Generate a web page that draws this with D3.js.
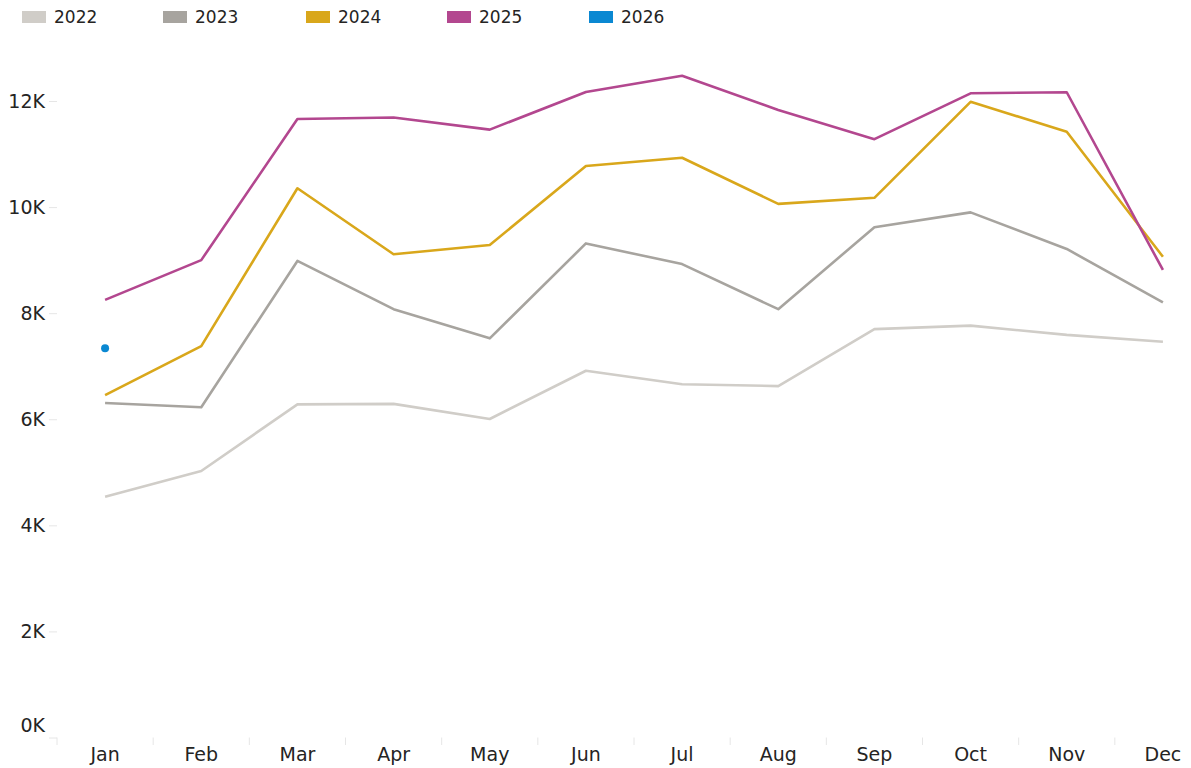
<!doctype html>
<html>
  <head>
    <meta charset="utf-8">
    <script src="https://cdn.jsdelivr.net/npm/d3@7"></script>
    <style>
      body { margin: 0; background: #ffffff; }
      svg { display: block; font-family: "DejaVu Sans", sans-serif; }
    </style>
  </head>
  <body>
    <svg></svg>
    <script>
      // data
      var months = ["Jan", "Feb", "Mar", "Apr", "May", "Jun", "Jul", "Aug", "Sep", "Oct", "Nov", "Dec"];
      var years = ["2022", "2023", "2024", "2025", "2026"];
      var yTicks = [0, 2000, 4000, 6000, 8000, 10000, 12000];

      var v2022 = [4540, 5025, 6280, 6290, 6005, 6915, 6660, 6625, 7700, 7765, 7590, 7460];
      var v2023 = [6305, 6225, 8985, 8075, 7525, 9315, 8925, 8075, 9620, 9900, 9210, 8205];
      var v2024 = [6455, 7380, 10355, 9110, 9285, 10775, 10930, 10060, 10175, 11985, 11420, 9065];
      var v2025 = [8250, 9000, 11660, 11690, 11460, 12170, 12475, 11830, 11280, 12145, 12165, 8815];
      var v2026 = [7340, null, null, null, null, null, null, null, null, null, null, null];

      var seriesValues = [v2022, v2023, v2024, v2025, v2026];
      var colors = ["#d0cdc8", "#a7a49f", "#d9a71b", "#b3478f", "#0a88d2"];

      var width = 1191, height = 768;
      var svg = d3.select("svg").attr("width", width).attr("height", height);

      // scales
      var x = d3.scaleBand().domain(months).range([57, 1211]).padding(0);
      var y = d3.scaleLinear().domain([0, 12000]).range([737.5, 101]);
      var cx = function(m) { return x(m) + x.bandwidth() / 2; };

      // legend
      var legendX = [22, 163, 306, 447, 589];
      var legend = svg.append("g").selectAll("g").data(years).enter().append("g")
        .attr("transform", function(d, i) { return "translate(" + legendX[i] + ",0)"; });
      legend.append("rect")
        .attr("x", 0).attr("y", 11).attr("width", 24).attr("height", 12)
        .attr("fill", function(d, i) { return colors[i]; });
      legend.append("text")
        .attr("x", 32).attr("y", 17).attr("dy", "0.35em")
        .attr("font-size", "17px").attr("fill", "#252423")
        .text(function(d) { return d; });

      // y axis
      var yAxis = d3.axisLeft(y).tickValues(yTicks).tickSize(8).tickPadding(4)
        .tickFormat(function(d) { return (d / 1000) + "K"; });
      var gy = svg.append("g").attr("transform", "translate(57,0)").call(yAxis);
      gy.select(".domain").remove();
      gy.selectAll(".tick line").attr("stroke", "#e6e6e6");
      gy.selectAll(".tick text").attr("font-size", "19px").attr("fill", "#252423")
        .attr("font-family", "DejaVu Sans, sans-serif");
      // the 0K label sits a bit higher than its tick
      gy.selectAll(".tick text").filter(function(d) { return d === 0; }).attr("dy", "-0.3em");

      // x axis: small ticks on the band edges
      var edges = months.map(function(m) { return x(m); });
      svg.append("g").selectAll("line").data(edges).enter().append("line")
        .attr("x1", function(d) { return d; }).attr("x2", function(d) { return d; })
        .attr("y1", 737.5).attr("y2", 745)
        .attr("stroke", "#e6e6e6");
      svg.append("g").selectAll("text").data(months).enter().append("text")
        .attr("x", function(d) { return cx(d); }).attr("y", 754).attr("dy", "0.35em")
        .attr("text-anchor", "middle").attr("font-size", "19px").attr("fill", "#252423")
        .text(function(d) { return d; });

      // lines
      var line = d3.line()
        .defined(function(d) { return d !== null; })
        .x(function(d, i) { return cx(months[i]); })
        .y(function(d) { return y(d); });

      seriesValues.forEach(function(vals, s) {
        svg.append("path")
          .datum(vals)
          .attr("d", line)
          .attr("fill", "none")
          .attr("stroke", colors[s])
          .attr("stroke-width", 2.6)
          .attr("stroke-linejoin", "round");
        // single points with no neighbours get a dot
        vals.forEach(function(v, i) {
          if (v === null) return;
          var prev = i > 0 ? vals[i - 1] : null;
          var next = i < vals.length - 1 ? vals[i + 1] : null;
          if (prev === null && next === null) {
            svg.append("circle")
              .attr("cx", cx(months[i])).attr("cy", y(v)).attr("r", 4)
              .attr("fill", colors[s]);
          }
        });
      });
    </script>
  </body>
</html>
